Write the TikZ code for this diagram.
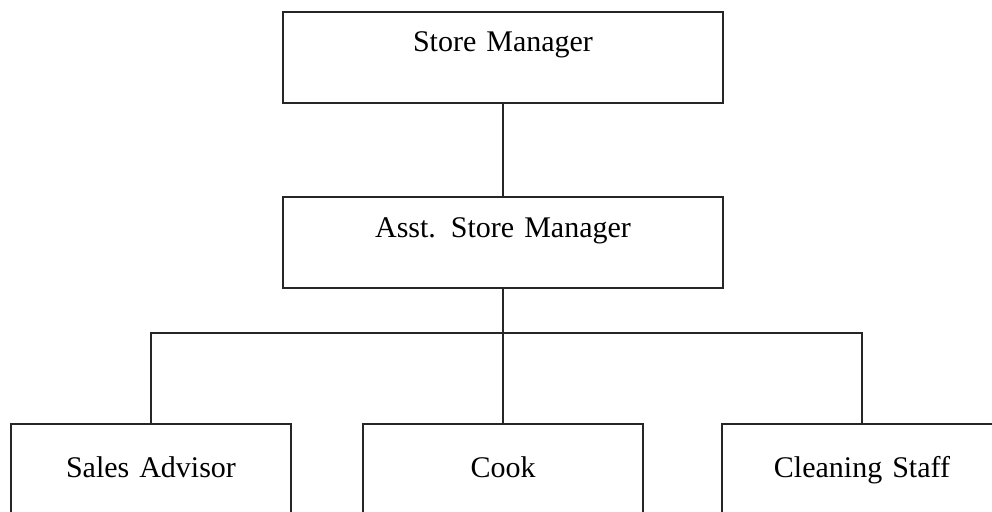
\documentclass[tikz,border=0pt]{standalone}
\usepackage{fontspec}
\setmainfont{Liberation Serif}
\begin{document}
\begin{tikzpicture}[x=1pt,y=-1pt,
  box/.style={draw=black!85, line width=1.2pt, fill=white, inner sep=0pt, align=center,
    font=\fontsize{30}{33}\selectfont},
  topbox/.style={box, text width=440pt, text height=40pt, text depth=51pt},
  lowbox/.style={box, text width=280pt, text height=53pt, text depth=38pt},
  conn/.style={draw=black!85, line width=1.2pt}]
\useasboundingbox (0,0) rectangle (992,511);
\node[topbox] (sm) at (503,57.5) {Store Manager};
\node[topbox] (asm) at (503,242.5) {Asst. Store Manager};
\node[lowbox] (sa) at (151,469.5) {Sales Advisor};
\node[lowbox] (cook) at (503,469.5) {Cook};
\node[lowbox] (cs) at (862,469.5) {Cleaning Staff};
\coordinate (bar) at (503,333);
\draw[conn] (sm.south) -- (asm.north);
\draw[conn] (asm.south) -- (cook.north);
\draw[conn] (sa.north) |- (bar) -| (cs.north);
\end{tikzpicture}
\end{document}
